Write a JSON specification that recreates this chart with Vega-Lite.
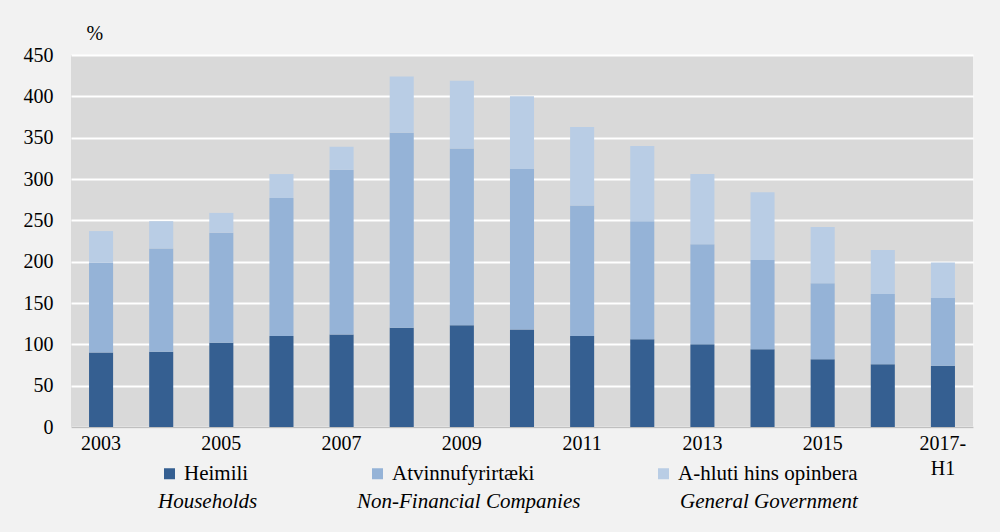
{
  "$schema": "https://vega.github.io/schema/vega-lite/v6.json",
  "width": 902,
  "height": 372,
  "autosize": {"type": "none"},
  "padding": {"left": 71, "top": 55, "right": 27, "bottom": 105},
  "background": "#f2f2f2",
  "data": {
    "values": [
      {"year": "2003", "cat": "Heimili", "en": "Households", "k": 1, "v": 90},
      {"year": "2003", "cat": "Atvinnufyrirtæki", "en": "Non-Financial Companies", "k": 2, "v": 109},
      {"year": "2003", "cat": "A-hluti hins opinbera", "en": "General Government", "k": 3, "v": 38},
      {"year": "2004", "cat": "Heimili", "en": "Households", "k": 1, "v": 91},
      {"year": "2004", "cat": "Atvinnufyrirtæki", "en": "Non-Financial Companies", "k": 2, "v": 125},
      {"year": "2004", "cat": "A-hluti hins opinbera", "en": "General Government", "k": 3, "v": 33},
      {"year": "2005", "cat": "Heimili", "en": "Households", "k": 1, "v": 102},
      {"year": "2005", "cat": "Atvinnufyrirtæki", "en": "Non-Financial Companies", "k": 2, "v": 133},
      {"year": "2005", "cat": "A-hluti hins opinbera", "en": "General Government", "k": 3, "v": 24},
      {"year": "2006", "cat": "Heimili", "en": "Households", "k": 1, "v": 110},
      {"year": "2006", "cat": "Atvinnufyrirtæki", "en": "Non-Financial Companies", "k": 2, "v": 167},
      {"year": "2006", "cat": "A-hluti hins opinbera", "en": "General Government", "k": 3, "v": 29},
      {"year": "2007", "cat": "Heimili", "en": "Households", "k": 1, "v": 112},
      {"year": "2007", "cat": "Atvinnufyrirtæki", "en": "Non-Financial Companies", "k": 2, "v": 199},
      {"year": "2007", "cat": "A-hluti hins opinbera", "en": "General Government", "k": 3, "v": 28},
      {"year": "2008", "cat": "Heimili", "en": "Households", "k": 1, "v": 120},
      {"year": "2008", "cat": "Atvinnufyrirtæki", "en": "Non-Financial Companies", "k": 2, "v": 236},
      {"year": "2008", "cat": "A-hluti hins opinbera", "en": "General Government", "k": 3, "v": 68},
      {"year": "2009", "cat": "Heimili", "en": "Households", "k": 1, "v": 123},
      {"year": "2009", "cat": "Atvinnufyrirtæki", "en": "Non-Financial Companies", "k": 2, "v": 214},
      {"year": "2009", "cat": "A-hluti hins opinbera", "en": "General Government", "k": 3, "v": 82},
      {"year": "2010", "cat": "Heimili", "en": "Households", "k": 1, "v": 118},
      {"year": "2010", "cat": "Atvinnufyrirtæki", "en": "Non-Financial Companies", "k": 2, "v": 194},
      {"year": "2010", "cat": "A-hluti hins opinbera", "en": "General Government", "k": 3, "v": 88},
      {"year": "2011", "cat": "Heimili", "en": "Households", "k": 1, "v": 110},
      {"year": "2011", "cat": "Atvinnufyrirtæki", "en": "Non-Financial Companies", "k": 2, "v": 158},
      {"year": "2011", "cat": "A-hluti hins opinbera", "en": "General Government", "k": 3, "v": 95},
      {"year": "2012", "cat": "Heimili", "en": "Households", "k": 1, "v": 106},
      {"year": "2012", "cat": "Atvinnufyrirtæki", "en": "Non-Financial Companies", "k": 2, "v": 143},
      {"year": "2012", "cat": "A-hluti hins opinbera", "en": "General Government", "k": 3, "v": 91},
      {"year": "2013", "cat": "Heimili", "en": "Households", "k": 1, "v": 100},
      {"year": "2013", "cat": "Atvinnufyrirtæki", "en": "Non-Financial Companies", "k": 2, "v": 121},
      {"year": "2013", "cat": "A-hluti hins opinbera", "en": "General Government", "k": 3, "v": 85},
      {"year": "2014", "cat": "Heimili", "en": "Households", "k": 1, "v": 94},
      {"year": "2014", "cat": "Atvinnufyrirtæki", "en": "Non-Financial Companies", "k": 2, "v": 108},
      {"year": "2014", "cat": "A-hluti hins opinbera", "en": "General Government", "k": 3, "v": 82},
      {"year": "2015", "cat": "Heimili", "en": "Households", "k": 1, "v": 82},
      {"year": "2015", "cat": "Atvinnufyrirtæki", "en": "Non-Financial Companies", "k": 2, "v": 92},
      {"year": "2015", "cat": "A-hluti hins opinbera", "en": "General Government", "k": 3, "v": 68},
      {"year": "2016", "cat": "Heimili", "en": "Households", "k": 1, "v": 76},
      {"year": "2016", "cat": "Atvinnufyrirtæki", "en": "Non-Financial Companies", "k": 2, "v": 85},
      {"year": "2016", "cat": "A-hluti hins opinbera", "en": "General Government", "k": 3, "v": 53},
      {"year": "2017-H1", "cat": "Heimili", "en": "Households", "k": 1, "v": 74},
      {"year": "2017-H1", "cat": "Atvinnufyrirtæki", "en": "Non-Financial Companies", "k": 2, "v": 82},
      {"year": "2017-H1", "cat": "A-hluti hins opinbera", "en": "General Government", "k": 3, "v": 43}
    ]
  },
  "mark": {"type": "bar"},
  "encoding": {
    "x": {
      "field": "year",
      "type": "nominal",
      "sort": null,
      "scale": {"paddingInner": 0.6, "paddingOuter": 0.3},
      "axis": {
        "title": null,
        "labelAngle": 0,
        "ticks": false,
        "domainColor": "#bfbfbf",
        "domainWidth": 1.5,
        "labelPadding": 6,
        "labelLineHeight": 25,
        "labelExpr": "datum.value == '2017-H1' ? ['2017-', 'H1'] : (indexof(['2003','2005','2007','2009','2011','2013','2015'], datum.value) >= 0 ? datum.value : '')"
      }
    },
    "y": {
      "field": "v",
      "type": "quantitative",
      "aggregate": "sum",
      "stack": "zero",
      "scale": {"domain": [0, 450], "nice": false},
      "axis": {
        "values": [0, 50, 100, 150, 200, 250, 300, 350, 400, 450],
        "title": "%",
        "titleAngle": 0,
        "titleAlign": "left",
        "titleBaseline": "middle",
        "titleX": 15,
        "titleY": -22,
        "titleFont": "Liberation Serif",
        "titleFontSize": 20,
        "titleFontWeight": "normal",
        "titleColor": "#000000",
        "domain": false,
        "ticks": false,
        "labelPadding": 18,
        "grid": true,
        "gridColor": "#ffffff",
        "gridWidth": 2
      }
    },
    "color": {
      "field": "cat",
      "type": "nominal",
      "sort": ["Heimili", "Atvinnufyrirtæki", "A-hluti hins opinbera"],
      "scale": {"range": ["#355f91", "#95b3d7", "#b9cde5"]},
      "legend": {
        "title": null,
        "orient": "none",
        "direction": "horizontal",
        "legendX": 88,
        "legendY": 408,
        "columnPadding": 118,
        "symbolType": "square",
        "symbolSize": 121,
        "symbolStrokeWidth": 0,
        "labelOffset": 4
      }
    },
    "opacity": {
      "field": "en",
      "type": "nominal",
      "sort": ["Households", "Non-Financial Companies", "General Government"],
      "scale": {"range": [1, 1]},
      "legend": {
        "title": null,
        "orient": "none",
        "direction": "horizontal",
        "legendX": 66,
        "legendY": 436,
        "columnPadding": 78,
        "symbolSize": 0,
        "symbolOpacity": 0,
        "symbolStrokeWidth": 0,
        "labelOffset": 0,
        "labelFontStyle": "italic"
      }
    },
    "order": {"field": "k", "type": "quantitative", "sort": "ascending"}
  },
  "config": {
    "view": {"fill": "#d9d9d9", "stroke": null},
    "axis": {
      "labelFont": "Liberation Serif",
      "labelFontSize": 20,
      "labelColor": "#000000"
    },
    "legend": {
      "labelFont": "Liberation Serif",
      "labelFontSize": 21,
      "labelColor": "#000000",
      "padding": 0,
      "labelLimit": 400
    }
  }
}
